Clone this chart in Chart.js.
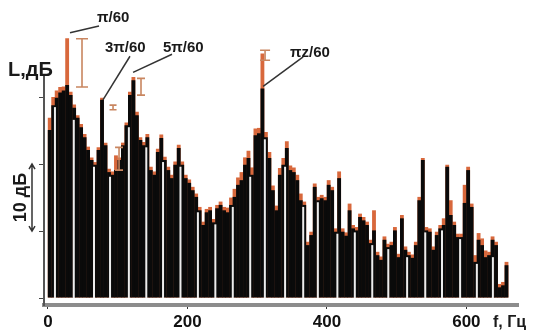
<!DOCTYPE html>
<html>
<head>
<meta charset="utf-8">
<script src="https://cdn.jsdelivr.net/npm/chart.js@4.4.1/dist/chart.umd.min.js"></script>
<style>
  html, body { margin: 0; padding: 0; background: #fff; }
</style>
</head>
<body>
<canvas id="spectrum" width="537" height="335"></canvas>
<script>
// spectrum levels, dB (relative), one bar per 5 Hz band starting at 2.5 Hz
const blackLevels = [
  25.1, 28.8, 29.9, 30.7, 31.0, 31.8, 30.3, 28.4, 26.9, 25.5,
  24.0, 22.1, 20.6, 19.9, 22.1, 29.6, 22.8, 18.8, 18.4, 19.1,
  20.6, 22.8, 25.8, 30.3, 32.5, 27.3, 23.6, 22.8, 24.0, 19.1,
  18.4, 21.8, 23.9, 20.6, 19.1, 17.9, 19.9, 22.4, 19.9, 17.9,
  17.2, 16.1, 15.1, 13.1, 10.9, 12.8, 13.1, 11.3, 13.4, 13.9,
  13.1, 12.8, 13.9, 15.1, 16.9, 17.6, 19.9, 20.9, 18.4, 24.3,
  24.6, 31.3, 24.0, 20.9, 16.1, 13.1, 18.4, 19.9, 22.4, 19.1,
  18.8, 17.6, 14.6, 13.9, 7.9, 9.4, 16.6, 14.6, 14.9, 14.6,
  16.9, 16.1, 9.9, 17.9, 9.9, 9.3, 13.1, 10.4, 10.1, 12.1,
  11.6, 10.9, 8.2, 10.1, 6.4, 5.7, 8.7, 7.6, 7.9, 10.1,
  6.1, 11.9, 7.2, 6.4, 6.0, 7.9, 14.6, 20.6, 10.1, 9.9,
  7.2, 9.4, 10.4, 10.9, 19.6, 12.4, 10.9, 9.1, 9.1, 14.2,
  19.1, 13.6, 5.4, 8.7, 7.9, 6.1, 6.4, 8.7, 7.9, 1.6,
  1.9, 4.9
];
const orangeLevels = [
  26.9, 30.0, 31.0, 31.5, 31.6, 38.8, 30.8, 28.9, 27.3, 26.0,
  24.5, 22.6, 21.0, 20.3, 22.5, 29.9, 23.2, 19.3, 18.9, 21.3,
  21.0, 23.2, 26.2, 30.8, 33.0, 27.8, 24.0, 23.3, 24.5, 19.6,
  18.9, 22.3, 24.4, 21.1, 19.6, 18.4, 20.4, 22.9, 20.4, 18.4,
  17.7, 16.6, 15.6, 13.6, 11.4, 13.3, 13.6, 11.8, 13.9, 14.4,
  13.6, 13.5, 15.0, 16.3, 18.0, 18.8, 21.0, 22.0, 19.5, 25.3,
  25.4, 36.5, 24.8, 21.8, 16.8, 13.8, 19.4, 20.9, 23.4, 19.8,
  19.5, 18.4, 15.6, 14.4, 8.4, 9.9, 17.1, 15.1, 15.4, 15.1,
  17.6, 16.6, 10.4, 18.9, 10.4, 9.8, 14.1, 10.9, 10.6, 12.6,
  12.1, 11.4, 8.7, 13.1, 6.9, 6.2, 9.2, 8.1, 8.4, 10.6,
  6.6, 12.4, 7.7, 6.9, 6.5, 8.4, 15.1, 20.9, 10.6, 10.4,
  7.7, 9.9, 10.9, 11.9, 19.9, 14.6, 11.4, 9.6, 9.6, 16.9,
  19.6, 14.1, 6.4, 9.7, 8.9, 7.1, 6.9, 9.2, 8.4, 2.1,
  2.4, 5.4
];
const freqs = blackLevels.map((_, i) => 2.5 + 5 * i);
const xTicks = [0, 200, 400, 600];
const yTicks = [0, 10, 20, 30];
// light separators between groups of bands
const gapFreqs = [10, 37, 66, 89, 116, 141, 165, 190, 215, 240, 265, 290, 311,
  340, 366, 387, 415, 440, 465, 488, 515, 541, 565, 591, 615, 638];
const peakLabels = ['π/60', '3π/60', '5π/60', 'πz/60'];

const F_MIN = -5.7, F_MAX = 674;
const BOLD = 'bold 15px "Liberation Sans", Arial, sans-serif';

// separators only as high as the bars around them
const separators = {
  id: 'separators',
  afterDatasetsDraw(chart) {
    const { ctx, scales: { x, y } } = chart;
    const bars = chart.getDatasetMeta(0).data;
    ctx.save();
    ctx.strokeStyle = '#ececec';
    ctx.lineWidth = 2;
    const y0 = y.getPixelForValue(0);
    gapFreqs.forEach(f => {
      const gx = x.getPixelForValue(f);
      const near = bars.filter(b => Math.abs(b.x - gx) < 4);
      if (!near.length) return;
      const top = Math.max(...near.map(b => b.y)) + 2;
      ctx.beginPath();
      ctx.moveTo(gx, y0);
      ctx.lineTo(gx, top);
      ctx.stroke();
    });
    ctx.restore();
  }
};

const annotations = {
  id: 'annotations',
  afterDraw(chart) {
    const { ctx, scales: { x, y } } = chart;
    const px = f => x.getPixelForValue(f);
    const py = v => y.getPixelForValue(v);
    ctx.save();

    // orange range brackets near the harmonics
    ctx.strokeStyle = '#c98660';
    ctx.lineWidth = 1.6;
    [[48.8, 31.5, 38.7, 6], [93.3, 28.1, 28.8, 3.5], [101.9, 19.1, 22.5, 4],
     [133.4, 30.3, 32.8, 4], [311.3, 35.5, 37.0, 5]].forEach(([f, lo, hi, w]) => {
      const cx = px(f);
      ctx.beginPath();
      ctx.moveTo(cx, py(lo)); ctx.lineTo(cx, py(hi));
      ctx.moveTo(cx - w, py(lo)); ctx.lineTo(cx + w, py(lo));
      ctx.moveTo(cx - w, py(hi)); ctx.lineTo(cx + w, py(hi));
      ctx.stroke();
    });

    // leader lines
    ctx.strokeStyle = '#333';
    ctx.lineWidth = 1.5;
    [[31.6, 39.6, 73.2, 40.6], [78.9, 29.6, 117.6, 36.1],
     [122, 33.7, 177.9, 36.4], [308.5, 31.6, 365.9, 36.0]].forEach(([f1, v1, f2, v2]) => {
      ctx.beginPath();
      ctx.moveTo(px(f1), py(v1));
      ctx.lineTo(px(f2), py(v2));
      ctx.stroke();
    });

    ctx.fillStyle = '#1a1a1a';
    ctx.font = BOLD;
    ctx.textBaseline = 'alphabetic';
    const labelPos = [[97, 22], [105, 52], [163, 52], [290, 57]];
    peakLabels.forEach((t, i) => ctx.fillText(t, labelPos[i][0], labelPos[i][1]));

    ctx.font = 'bold 20px "Liberation Sans", Arial, sans-serif';
    ctx.fillText('L,дБ', 8, 76);

    ctx.font = 'bold 16px "Liberation Sans", Arial, sans-serif';
    ctx.fillText('f, Гц', 493, 327);

    // 10 dB scale mark
    ctx.save();
    ctx.translate(21, py(15));
    ctx.rotate(-Math.PI / 2);
    ctx.font = 'bold 18px "Liberation Sans", Arial, sans-serif';
    ctx.textAlign = 'center';
    ctx.textBaseline = 'middle';
    ctx.fillText('10 дБ', 0, 0);
    ctx.restore();

    const ax = 32, a1 = py(20), a2 = py(10);
    ctx.strokeStyle = '#333';
    ctx.lineWidth = 1.5;
    ctx.beginPath();
    ctx.moveTo(ax, a1); ctx.lineTo(ax, a2);
    ctx.moveTo(ax - 3, a1 + 5); ctx.lineTo(ax, a1); ctx.lineTo(ax + 3, a1 + 5);
    ctx.moveTo(ax - 3, a2 - 5); ctx.lineTo(ax, a2); ctx.lineTo(ax + 3, a2 - 5);
    ctx.stroke();

    ctx.restore();
  }
};

new Chart(document.getElementById('spectrum'), {
  type: 'bar',
  data: {
    datasets: [
      {
        label: 'L',
        data: freqs.map((f, i) => ({ x: f, y: blackLevels[i] })),
        backgroundColor: '#0a0a0a',
        grouped: false,
        order: 0,
        barPercentage: 1.1,
        categoryPercentage: 1,
        clip: false
      },
      {
        label: 'L max',
        data: freqs.map((f, i) => ({ x: f, y: orangeLevels[i] })),
        backgroundColor: '#d8683c',
        grouped: false,
        order: 1,
        barPercentage: 1.1,
        categoryPercentage: 1,
        clip: false
      }
    ]
  },
  options: {
    responsive: false,
    animation: false,
    layout: { padding: { left: 39, right: 19, top: 77, bottom: 0 } },
    plugins: { legend: { display: false }, tooltip: { enabled: false } },
    scales: {
      x: {
        type: 'linear',
        position: 'bottom',
        offset: false,
        min: F_MIN,
        max: F_MAX,
        afterBuildTicks: s => { s.ticks = xTicks.map(v => ({ value: v })) },
        afterFit: s => { s.height = 30 },
        ticks: {
          color: '#111',
          padding: 3,
          maxRotation: 0,
          font: { family: '"Liberation Sans", Arial, sans-serif', weight: 'bold', size: 17 }
        },
        grid: { drawOnChartArea: false, tickLength: 4, color: '#333', offset: false },
        border: { color: '#8c8c8c', width: 4 }
      },
      y: {
        min: -1.04,
        max: 33,
        afterBuildTicks: s => { s.ticks = yTicks.map(v => ({ value: v })) },
        afterFit: s => { s.width = 5 },
        ticks: { display: false },
        grid: { drawOnChartArea: false, tickLength: 5, color: '#444' },
        border: { color: '#555', width: 2 }
      }
    }
  },
  plugins: [separators, annotations]
});
</script>
</body>
</html>
